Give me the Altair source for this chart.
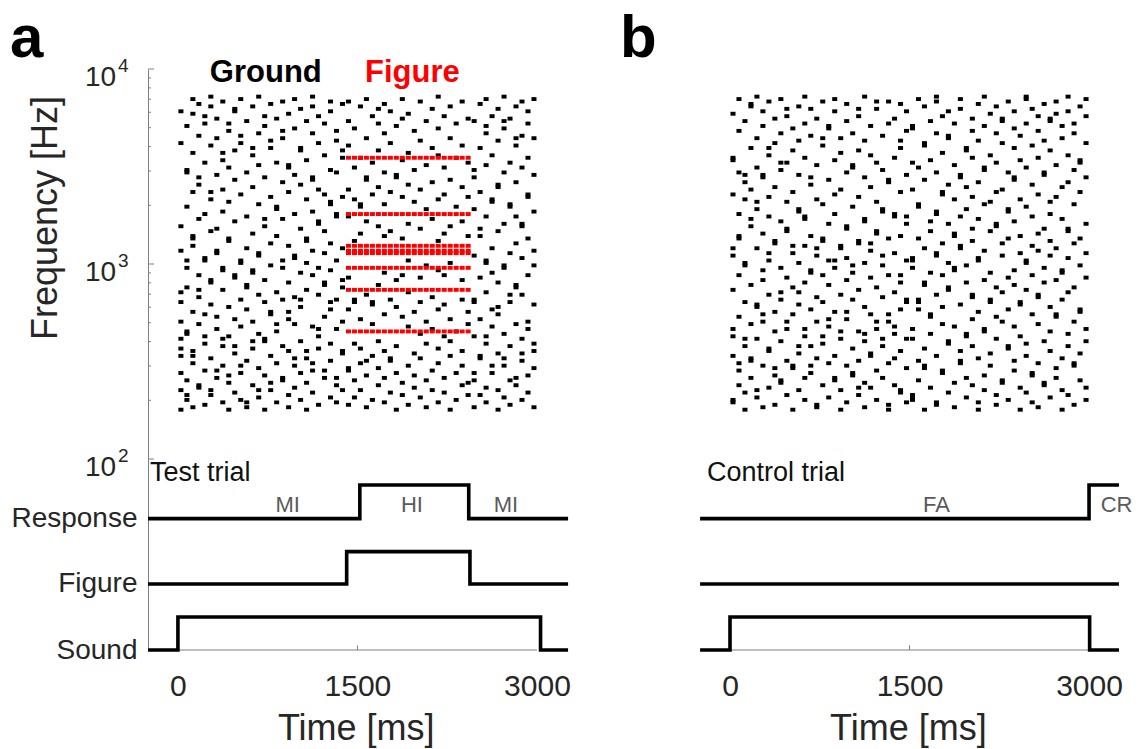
import math
import altair as alt
import pandas as pd

# ---------------- data ----------------
CHORD_MS = 50
F_LOW_HZ = 179.0
STEPS_PER_OCTAVE = 24
PANEL_B_SHIFT = 4613  # ms: panel b drawn on the same time axis, shifted right

# ground tone components: one list of frequency indices per 50-ms chord (panel a)
GROUND_A = [
    [0, 8, 15, 22, 25, 29, 36, 44, 48, 65, 75, 109, 122],
    [4, 6, 12, 31, 32, 50, 58, 61, 83, 97, 98, 116],
    [1, 19, 22, 24, 40, 67, 70, 71, 89, 105, 121, 127],
    [9, 10, 35, 46, 49, 55, 78, 92, 95, 112, 125],
    [2, 16, 27, 30, 39, 61, 62, 80, 101, 117, 120],
    [6, 8, 21, 43, 52, 53, 73, 86, 89, 108, 124, 128],
    [13, 16, 33, 38, 64, 65, 74, 96, 111, 119],
    [3, 18, 26, 29, 49, 57, 58, 81, 90, 102, 105, 126],
    [0, 11, 14, 30, 42, 69, 70, 85, 99, 114, 117],
    [7, 23, 26, 37, 54, 55, 77, 94, 106, 122, 123],
    [4, 15, 18, 34, 45, 60, 61, 88, 109, 112, 127],
    [1, 3, 20, 41, 50, 51, 66, 79, 97, 118],
    [10, 25, 28, 36, 56, 57, 72, 91, 104, 107, 124],
    [5, 8, 17, 31, 47, 63, 64, 84, 100, 113, 128],
    [0, 14, 28, 29, 44, 53, 75, 78, 95, 116, 120],
    [8, 11, 22, 39, 40, 59, 68, 87, 107, 110, 125],
    [3, 19, 32, 35, 48, 71, 82, 83, 101, 119],
    [12, 13, 26, 45, 58, 61, 78, 93, 111, 114, 126],
    [1, 6, 24, 37, 40, 52, 67, 89, 99, 100, 121],
    [9, 18, 21, 35, 46, 62, 63, 80, 96, 115, 127],
    [4, 15, 28, 42, 45, 56, 74, 92, 106, 107, 123],
    [0, 11, 21, 24, 49, 60, 69, 70, 86, 102, 118],
    [7, 16, 19, 34, 55, 65, 81, 94, 95, 113, 124, 128],
    [2, 25, 30, 33, 47, 58, 76, 77, 90, 109, 120],
    [13, 16, 38, 51, 52, 64, 73, 88, 104, 117],
    [5, 20, 27, 41, 44, 57, 68, 84, 85, 98, 122, 126],
    [3, 10, 13, 33, 45, 61, 79, 80, 97, 110, 114],
    [8, 23, 24, 36, 50, 53, 66, 87, 103, 106, 125],
    [2, 16, 17, 41, 54, 79, 90, 108, 118, 126],
    [5, 12, 27, 44, 45, 69, 86, 99, 115],
    [8, 19, 25, 37, 72, 83, 84, 103, 124],
    [1, 14, 20, 47, 77, 94, 95, 111, 127],
    [4, 22, 35, 43, 44, 88, 101, 120],
    [10, 17, 28, 51, 75, 91, 106, 117, 123],
    [3, 13, 24, 39, 56, 71, 84, 97, 113, 125],
    [7, 20, 21, 45, 73, 89, 109, 122],
    [0, 15, 26, 42, 53, 95, 96, 116],
    [6, 11, 38, 55, 70, 87, 102, 119, 127],
    [2, 18, 34, 48, 61, 76, 92, 105, 121],
    [9, 14, 23, 40, 85, 98, 114],
    [5, 21, 31, 44, 54, 74, 90, 110, 126],
    [1, 12, 27, 36, 59, 82, 100, 118],
    [8, 16, 33, 46, 78, 93, 107, 123],
    [3, 19, 25, 41, 57, 69, 86, 104, 115, 128],
    [7, 13, 30, 43, 55, 72, 88, 99, 120],
    [0, 22, 28, 37, 60, 75, 94, 111, 124],
    [4, 15, 32, 83, 103, 117],
    [10, 18, 24, 45, 53, 77, 91, 108, 126],
    [6, 11, 35, 40, 71, 87, 101, 119],
    [1, 12, 15, 30, 44, 45, 63, 82, 95, 98, 118],
    [6, 21, 22, 37, 54, 71, 74, 89, 107, 125],
    [3, 9, 27, 30, 48, 60, 61, 79, 100, 113, 116, 127],
    [15, 18, 34, 41, 56, 66, 85, 86, 104, 120],
    [0, 8, 23, 39, 42, 52, 73, 91, 92, 110, 123],
    [5, 18, 21, 31, 58, 59, 76, 97, 115, 118, 128],
    [2, 12, 26, 44, 47, 64, 83, 84, 101, 119],
    [10, 13, 35, 50, 51, 68, 79, 93, 108, 111, 124],
    [4, 20, 23, 29, 47, 62, 75, 76, 99, 112, 126],
    [7, 14, 33, 36, 55, 70, 87, 88, 103, 117, 122],
    [1, 17, 24, 27, 43, 59, 65, 81, 96, 111, 127],
]

# figure components (repeated over chords 28..48) in panel a
FIGURE_A_ROWS = [32, 49, 58, 64, 65, 67, 80, 103]
FIGURE_A_CHORDS = list(range(28, 49))

# control trial (panel b): ground only
GROUND_B = [
    [3, 4, 22, 30, 33, 49, 63, 66, 88, 102, 103, 121],
    [10, 16, 19, 38, 55, 70, 71, 80, 97, 114, 127],
    [0, 7, 26, 29, 44, 59, 60, 86, 93, 96, 118],
    [13, 20, 21, 35, 51, 75, 78, 90, 107, 124, 125],
    [5, 8, 29, 42, 43, 66, 82, 85, 99, 111, 128],
    [1, 18, 36, 39, 53, 57, 72, 95, 96, 116, 122],
    [9, 24, 25, 47, 61, 64, 79, 87, 104, 107, 126],
    [2, 14, 17, 32, 40, 68, 69, 91, 109, 119],
    [11, 12, 28, 45, 48, 58, 77, 98, 101, 113, 127],
    [6, 20, 33, 36, 54, 73, 74, 85, 101, 120, 123],
    [0, 17, 18, 39, 50, 64, 67, 89, 106, 115],
    [8, 23, 26, 43, 48, 60, 81, 82, 96, 110, 124],
    [4, 13, 30, 33, 52, 67, 78, 79, 103, 117, 128],
    [15, 18, 26, 41, 56, 57, 71, 92, 95, 112, 123],
    [1, 2, 21, 36, 46, 63, 66, 86, 100, 119],
    [10, 27, 30, 44, 55, 69, 70, 84, 108, 111, 126],
    [5, 19, 34, 37, 51, 61, 76, 94, 115, 116],
    [12, 13, 22, 40, 58, 61, 80, 88, 102, 122, 127],
    [0, 8, 29, 32, 47, 66, 67, 90, 105, 111],
    [3, 18, 37, 40, 53, 62, 74, 75, 97, 118, 125],
    [14, 15, 25, 45, 56, 59, 83, 99, 100, 113],
    [6, 9, 20, 32, 49, 68, 69, 87, 106, 120, 123],
    [1, 11, 28, 31, 42, 60, 77, 78, 95, 110, 128],
    [9, 22, 23, 39, 54, 65, 68, 91, 104, 116],
    [4, 16, 33, 36, 50, 72, 73, 85, 101, 123, 126],
    [13, 26, 29, 46, 59, 63, 81, 82, 98, 112],
    [0, 2, 19, 36, 39, 55, 70, 93, 94, 117, 126],
    [10, 21, 31, 34, 48, 64, 79, 80, 103, 119],
    [7, 8, 24, 41, 52, 55, 71, 89, 107, 110, 125],
    [3, 17, 29, 44, 45, 61, 76, 79, 96, 114, 122],
    [4, 5, 6, 29, 33, 58, 61, 62, 90, 101, 115, 116],
    [12, 20, 41, 44, 45, 70, 83, 84, 99, 127],
    [0, 17, 18, 25, 51, 52, 66, 94, 108, 109, 124],
    [9, 31, 38, 39, 56, 73, 77, 102, 118],
    [2, 3, 22, 47, 63, 64, 80, 81, 97, 113, 126, 128],
    [15, 16, 35, 42, 55, 68, 88, 89, 105, 120],
    [7, 27, 28, 49, 50, 60, 76, 92, 111, 112, 122],
    [1, 11, 34, 57, 58, 71, 72, 86, 100, 117],
    [19, 20, 24, 43, 66, 67, 79, 95, 96, 123, 127],
    [5, 13, 30, 31, 52, 59, 82, 91, 106, 107],
    [10, 26, 37, 46, 47, 69, 74, 87, 103, 114, 119],
    [0, 3, 21, 40, 61, 62, 78, 93, 110, 125],
    [8, 14, 32, 33, 53, 65, 84, 98, 99, 116, 128],
    [18, 23, 44, 45, 56, 73, 85, 104, 121],
    [2, 6, 29, 38, 50, 75, 76, 89, 101, 113, 124],
    [11, 12, 36, 48, 63, 68, 90, 109, 118, 119],
    [4, 25, 26, 41, 54, 70, 81, 82, 97, 126],
    [16, 20, 34, 51, 57, 77, 94, 95, 107, 115, 122],
    [0, 9, 30, 43, 44, 64, 71, 86, 102, 112],
    [7, 22, 27, 49, 60, 61, 83, 99, 117, 127, 128],
    [3, 14, 15, 39, 55, 67, 79, 92, 108, 123],
    [1, 19, 35, 46, 47, 65, 72, 88, 103, 114, 120],
    [10, 11, 28, 52, 58, 74, 96, 97, 110, 125],
    [5, 24, 32, 42, 63, 69, 80, 85, 106, 118, 119],
    [13, 17, 38, 39, 53, 66, 87, 100, 121, 126],
    [0, 8, 21, 45, 56, 57, 78, 91, 111, 116],
    [6, 26, 31, 48, 62, 73, 74, 93, 104, 122, 128],
    [2, 18, 19, 36, 50, 68, 84, 98, 113, 117],
    [12, 23, 40, 41, 59, 70, 89, 101, 102, 124],
    [4, 9, 28, 33, 54, 64, 76, 95, 109, 120, 127],
]

TIME_TICKS = [0, 1500, 3000]
FREQ_TICKS_HZ = [100, 1000, 10000]
FREQ_TICK_EXP = ["2", "3", "4"]
FREQ_MINOR_HZ = [k * 10 ** n for n in (2, 3) for k in range(2, 10)]

# trace levels, in the units of the vertical axis (log10 of Hz)
TRACE_LOW = {"Response": 1.694, "Figure": 1.359, "Sound": 1.0205}
TRACE_HIGH = {"Response": 1.867, "Figure": 1.525, "Sound": 1.19}

# step traces: times (ms) and state (0 = low, 1 = high)
TRACE_STEPS = [
    ("a", "Response", [-250, 1520, 1520, 2430, 2430, 3260], [0, 0, 1, 1, 0, 0]),
    ("a", "Figure", [-250, 1410, 1410, 2440, 2440, 3260], [0, 0, 1, 1, 0, 0]),
    ("a", "Sound", [-250, 0, 0, 3030, 3030, 3260], [0, 0, 1, 1, 0, 0]),
    ("b", "Response", [-250, 3000, 3000, 3250], [0, 0, 1, 1]),
    ("b", "Figure", [-250, 3250], [0, 0]),
    ("b", "Sound", [-250, 0, 0, 3005, 3005, 3250], [0, 0, 1, 1, 0, 0]),
]

OUTCOME_LABELS = [("a", "MI", 917), ("a", "HI", 1955), ("a", "MI", 2741),
                  ("b", "FA", 1725), ("b", "CR", 3230)]
TRIAL_LABELS = [("a", "Test trial", -234), ("b", "Control trial", -192)]

# ---------------- tables ----------------
def shift(panel):
    return 0 if panel == "a" else PANEL_B_SHIFT

def lf(i):
    return math.log10(F_LOW_HZ) + i * math.log10(2) / STEPS_PER_OCTAVE

rows = []
for k, col in enumerate(GROUND_A):
    for i in col:
        rows.append({"t": k * CHORD_MS + CHORD_MS / 2, "lf": lf(i), "c": "ground"})
for k, col in enumerate(GROUND_B):
    for i in col:
        rows.append({"t": k * CHORD_MS + CHORD_MS / 2 + PANEL_B_SHIFT, "lf": lf(i), "c": "ground"})
for k in FIGURE_A_CHORDS:
    for i in FIGURE_A_ROWS:
        rows.append({"t": k * CHORD_MS + CHORD_MS / 2, "lf": lf(i), "c": "figure"})
dots = pd.DataFrame(rows)

trows = []
for panel, name, ts, st in TRACE_STEPS:
    for j, (t, s) in enumerate(zip(ts, st)):
        trows.append({"t": t + shift(panel), "y": TRACE_HIGH[name] if s else TRACE_LOW[name],
                      "id": panel + name, "seq": j})
traces = pd.DataFrame(trows)

base_y = TRACE_LOW["Sound"]
xline = pd.DataFrame([{"t0": TIME_TICKS[0] + shift(p), "t1": TIME_TICKS[-1] + shift(p), "y": base_y}
                      for p in ("a", "b")])
xtick = pd.DataFrame([{"t": TIME_TICKS[1] + shift(p), "y": base_y, "y2": base_y + 0.024}
                      for p in ("a", "b")])
ymaj = pd.DataFrame({"y": [math.log10(f) for f in FREQ_TICKS_HZ]})
ymin = pd.DataFrame({"y": [math.log10(f) for f in FREQ_MINOR_HZ]})

# "10" with superscript exponent, next to each decade tick
dec_base = pd.DataFrame([{"t": -517, "y": math.log10(f) - 17 / 195, "text": "10"} for f in FREQ_TICKS_HZ])
dec_exp = pd.DataFrame([{"t": -500, "y": math.log10(f) - 3 / 195, "text": e}
                        for f, e in zip(FREQ_TICKS_HZ, FREQ_TICK_EXP)])

outcomes = pd.DataFrame([{"t": t + shift(p), "y": 1.728, "text": s} for p, s, t in OUTCOME_LABELS])
trials = pd.DataFrame([{"t": t + shift(p), "y": 1.885, "text": s} for p, s, t in TRIAL_LABELS])
letters = pd.DataFrame([{"t": -1404, "y": 4.062, "text": "a"}, {"t": 3693, "y": 4.062, "text": "b"}])
xtitles = pd.DataFrame([{"t": 1490 + shift(p), "y": 0.559, "text": "Time [ms]"} for p in ("a", "b")])
ytitle = pd.DataFrame([{"t": -1010, "y": 3.236, "text": "Frequency [Hz]"}])
legend_g = pd.DataFrame([{"t": 267, "y": 3.933, "text": "Ground"}])
legend_f = pd.DataFrame([{"t": 1563, "y": 3.933, "text": "Figure"}])

# ---------------- chart ----------------
FONT = "Liberation Sans"
XS = alt.Scale(domain=[-250, 7855], nice=False, zero=False)
YS = alt.Scale(domain=[TRACE_LOW["Sound"], 4.0], nice=False, zero=False)

X_AXIS = alt.Axis(
    values=TIME_TICKS + [t + PANEL_B_SHIFT for t in TIME_TICKS],
    labelExpr=f"datum.value > 4000 ? format(datum.value - {PANEL_B_SHIFT}, 'd') : format(datum.value, 'd')",
    domain=False, ticks=False, tickSize=0, grid=False, labelFontSize=30, labelFont=FONT,
    labelColor="#262626", labelPadding=21, labelOverlap=False, labelFlush=False, title=None)
Y_AXIS = alt.Axis(
    values=[TRACE_LOW["Sound"], TRACE_LOW["Figure"], TRACE_LOW["Response"]],
    labelExpr="datum.value < 1.2 ? 'Sound' : datum.value < 1.5 ? 'Figure' : 'Response'",
    ticks=False, tickSize=0, grid=False, domainColor="#808080", domainWidth=1,
    labelFontSize=28, labelFont=FONT, labelColor="#262626", labelPadding=11,
    labelOverlap=False, labelFlush=False, title=None)

def X(field):
    return alt.X(field, type="quantitative", scale=XS, axis=X_AXIS)

def Y(field):
    return alt.Y(field, type="quantitative", scale=YS, axis=Y_AXIS)

axis_line = alt.Chart(xline).mark_rule(color="#808080", strokeWidth=1).encode(
    x=X("t0"), x2="t1", y=Y("y"))
axis_tick = alt.Chart(xtick).mark_rule(color="#808080", strokeWidth=1).encode(
    x=X("t"), y=Y("y"), y2="y2")
ytick_major = alt.Chart(ymaj).mark_rule(color="#808080", strokeWidth=1).encode(
    y=Y("y"), x=alt.value(0), x2=alt.value(6))
ytick_minor = alt.Chart(ymin).mark_rule(color="#808080", strokeWidth=1).encode(
    y=Y("y"), x=alt.value(0), x2=alt.value(3))

def dot_layer(kind, color):
    return alt.Chart(dots).transform_filter(alt.datum.c == kind).transform_calculate(
        x1="datum.t - 21", x2="datum.t + 21", y1="datum.lf - 0.0100", y2="datum.lf + 0.0100"
    ).mark_rect(color=color).encode(x=X("x1"), x2="x2", y=Y("y1"), y2="y2")

ground = dot_layer("ground", "#000000")
figure = dot_layer("figure", "#ff0000")

lines = alt.Chart(traces).mark_line(color="black", strokeWidth=3.6, strokeJoin="miter",
                                    strokeCap="butt").encode(
    x=X("t"), y=Y("y"), detail="id:N", order="seq:Q")

def text_layer(df, **kw):
    return alt.Chart(df).mark_text(font=FONT, baseline="alphabetic", **kw).encode(
        x=X("t"), y=Y("y"), text="text:N")

t_dec = text_layer(dec_base, fontSize=28, color="#262626", align="right")
t_exp = text_layer(dec_exp, fontSize=19, color="#262626", align="left")
t_out = text_layer(outcomes, fontSize=22, color="#5a5a5a", align="center")
t_trial = text_layer(trials, fontSize=27, color="#111111", align="left")
t_letters = text_layer(letters, fontSize=60, fontWeight="bold", color="black", align="left")
t_xt = text_layer(xtitles, fontSize=36, color="#262626", align="center")
t_yt = text_layer(ytitle, fontSize=36, color="#262626", align="center", angle=270)
t_g = text_layer(legend_g, fontSize=31, fontWeight="bold", color="black", align="left")
t_f = text_layer(legend_f, fontSize=31, fontWeight="bold", color="#ff0000", align="left")

chart = alt.layer(
    axis_line, axis_tick, ytick_major, ytick_minor, ground, figure, lines,
    t_dec, t_exp, t_out, t_trial, t_letters, t_xt, t_yt, t_g, t_f,
).properties(
    width=970, height=581,
    padding={"left": 148, "top": 69, "right": 24, "bottom": 99},
    autosize=alt.AutoSizeParams(type="none"),
    background="white",
).configure_view(stroke=None)

chart.save("out.html", embed_options={"renderer": "svg", "actions": False})
